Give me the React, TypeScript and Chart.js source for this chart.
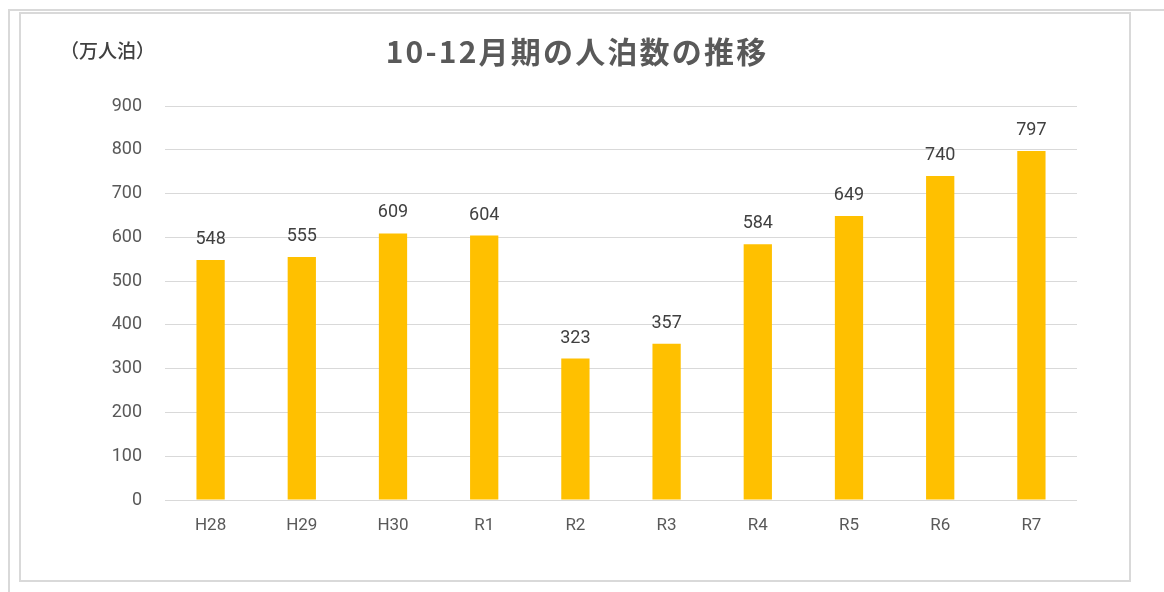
import { useEffect, useRef } from "react";
import { Chart, registerables } from "chart.js";

Chart.register(...registerables);

const categories = ["H28", "H29", "H30", "R1", "R2", "R3", "R4", "R5", "R6", "R7"];
const values = [548, 555, 609, 604, 323, 357, 584, 649, 740, 797];
const yMin = 0;
const yMax = 900;
const yStep = 100;
const titleText = "10-12月期の人泊数の推移";
const unitText = "（万人泊）";

const FONT = 'Roboto, "Noto Sans CJK JP", sans-serif';
const CJK = '"Noto Sans CJK JP", sans-serif';

const framePlugin = {
  id: "frame",
  beforeDraw(chart: any) {
    const ctx = chart.ctx;
    ctx.save();
    ctx.fillStyle = "#ffffff";
    ctx.fillRect(0, 0, chart.width, chart.height);
    ctx.strokeStyle = "#d9d9d9";
    ctx.lineWidth = 2;
    ctx.beginPath();
    ctx.moveTo(9, chart.height);
    ctx.lineTo(9, 10);
    ctx.lineTo(chart.width, 10);
    ctx.stroke();
    ctx.strokeRect(20, 13, 1110, 568);
    ctx.restore();
  },
  afterDraw(chart: any) {
    const ctx = chart.ctx;
    ctx.save();
    ctx.fillStyle = "#595959";
    ctx.font = `bold 30px ${CJK}`;
    ctx.textAlign = "center";
    ctx.textBaseline = "middle";
    try { (ctx as any).letterSpacing = "2.2px"; } catch (e) {}
    ctx.fillText(titleText, 577, 52);
    try { (ctx as any).letterSpacing = "0px"; } catch (e) {}
    ctx.fillStyle = "#404040";
    ctx.font = `500 19px ${CJK}`;
    ctx.textAlign = "left";
    ctx.fillText(unitText, 60, 51);
    ctx.restore();
  },
};

const labelPlugin = {
  id: "barLabels",
  afterDatasetsDraw(chart: any) {
    const ctx = chart.ctx;
    const meta = chart.getDatasetMeta(0);
    ctx.save();
    ctx.fillStyle = "#404040";
    ctx.font = `18px ${FONT}`;
    ctx.textAlign = "center";
    ctx.textBaseline = "alphabetic";
    meta.data.forEach((bar: any, i: number) => {
      ctx.fillText(String(values[i]), bar.x, bar.y - 16);
    });
    ctx.restore();
  },
};

export default function App() {
  const ref = useRef<HTMLCanvasElement | null>(null);
  useEffect(() => {
    if (!ref.current) return;
    const chart = new Chart(ref.current, {
      type: "bar",
      data: {
        labels: categories,
        datasets: [
          {
            data: values,
            backgroundColor: "#FFC000",
            barPercentage: 0.31,
            categoryPercentage: 1,
          },
        ],
      },
      options: {
        animation: false,
        responsive: false,
        devicePixelRatio: 1,
        layout: { padding: { left: 20, right: 87, top: 106, bottom: 0 } },
        plugins: {
          legend: { display: false },
          tooltip: { enabled: false },
          title: { display: false },
        },
        scales: {
          x: {
            grid: { display: false },
            border: { display: false },
            ticks: { color: "#595959", font: { size: 17, family: FONT }, padding: 8 },
            afterFit: (s: any) => { s.height = 92; },
          },
          y: {
            min: yMin,
            max: yMax,
            border: { display: false },
            grid: { color: "#d9d9d9", lineWidth: 1, drawTicks: false },
            ticks: { stepSize: yStep, color: "#595959", font: { size: 18, family: FONT }, padding: 23 },
            afterFit: (s: any) => { s.width = 145; },
          },
        },
      },
      plugins: [framePlugin, labelPlugin],
    });
    return () => chart.destroy();
  }, []);
  return (
    <div style={{ position: "fixed", left: 0, top: 0, width: 1164, height: 592, background: "#fff" }}>
      <canvas ref={ref} width={1164} height={592} style={{ display: "block" }} />
    </div>
  );
}
